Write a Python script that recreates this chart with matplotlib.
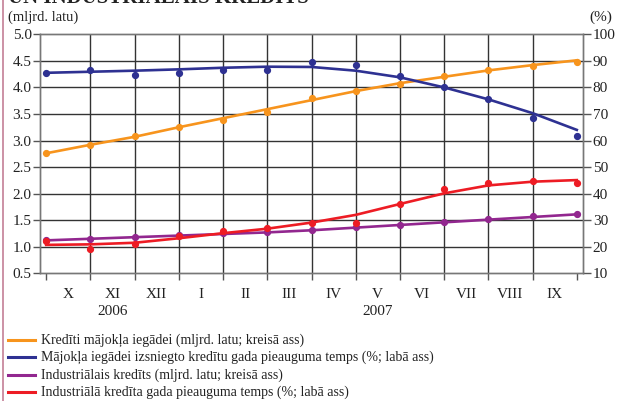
import numpy as np
import matplotlib
matplotlib.use("Agg")
import matplotlib.pyplot as plt
from matplotlib.lines import Line2D

plt.rcParams['font.family'] = ['Liberation Serif', 'DejaVu Serif']

months = ["X", "XI", "XII", "I", "II", "III", "IV", "V", "VI", "VII", "VIII", "IX"]
years = {"2006": 1, "2007": 7}

# housing loans (bn lats, left axis)
housing_pts = [2.76, 2.92, 3.08, 3.25, 3.39, 3.54, 3.81, 3.94, 4.07, 4.21, 4.32, 4.41, 4.47]
housing_trend = [2.76, 2.92, 3.07, 3.25, 3.42, 3.59, 3.76, 3.93, 4.08, 4.20, 4.32, 4.42, 4.51]
# housing loan growth (% , right axis)
hgrowth_pts = [85.5, 86.6, 84.6, 85.5, 86.6, 86.6, 89.5, 88.4, 84.3, 80.3, 75.5, 68.6, 61.7]
hgrowth_trend = [85.5, 85.9, 86.3, 86.8, 87.4, 87.8, 87.7, 86.3, 83.8, 80.0, 75.5, 70.3, 64.0]
# industrial credit (bn lats, left axis)
ind_pts = [1.13, 1.15, 1.18, 1.23, 1.25, 1.28, 1.31, 1.37, 1.41, 1.46, 1.52, 1.57, 1.61]
ind_trend = [1.12, 1.15, 1.18, 1.21, 1.24, 1.27, 1.31, 1.36, 1.41, 1.46, 1.51, 1.56, 1.61]
# industrial credit growth (%, right axis)
igrowth_pts = [22.2, 19.2, 20.9, 24.1, 25.8, 27.0, 29.1, 29.1, 36.0, 41.9, 43.9, 44.8, 43.9]
igrowth_trend = [20.7, 20.9, 21.5, 23.2, 25.1, 26.8, 29.1, 32.0, 36.1, 40.1, 43.1, 44.5, 45.1]

labels = ["Kredīti mājokļa iegādei (mljrd. latu; kreisā ass)",
          "Mājokļa iegādei izsniegto kredītu gada pieauguma temps (%; labā ass)",
          "Industriālais kredīts (mljrd. latu; kreisā ass)",
          "Industriālā kredīta gada pieauguma temps (%; labā ass)"]
colors = ["#F7941D", "#2E3192", "#92278F", "#ED1C24"]

W, H = 617, 401
fig = plt.figure(figsize=(W / 100, H / 100), dpi=100)
ax = fig.add_axes([40 / W, 1 - 273.3 / H, (583 - 40) / W, (273.3 - 34.3) / H])
ax2 = ax.twinx()

x = np.arange(len(housing_pts))
lw = 1.9
ms = 4.2
ax.plot(x, housing_trend, color=colors[0], lw=lw, zorder=4)
ax.plot(x, housing_pts, 'o', color=colors[0], ms=ms, zorder=5)
ax.plot(x, ind_trend, color=colors[2], lw=lw, zorder=4)
ax.plot(x, ind_pts, 'o', color=colors[2], ms=ms, zorder=5)
ax2.plot(x, hgrowth_trend, color=colors[1], lw=lw, zorder=4)
ax2.plot(x, hgrowth_pts, 'o', color=colors[1], ms=ms, zorder=5)
ax2.plot(x, igrowth_trend, color=colors[3], lw=lw, zorder=4)
ax2.plot(x, igrowth_pts, 'o', color=colors[3], ms=ms, zorder=5)

ax.set_xlim(-0.14, 12.14)
ax.set_ylim(0.5, 5.0)
ax2.set_ylim(10, 100)
ax.set_yticks(np.arange(0.5, 5.01, 0.5))
ax.set_yticklabels([f"{v:.1f}" for v in np.arange(0.5, 5.01, 0.5)])
ax2.set_yticks(np.arange(10, 101, 10))

# grid
for v in np.arange(1.0, 5.0, 0.5):
    ax.axhline(v, color="#333333", lw=1.0, zorder=1)
for i in range(1, 12):
    ax.axvline(i, color="#333333", lw=1.0, zorder=1)

ax.set_xticks(x)
ax.set_xticklabels([])
ax.tick_params(axis='x', length=5, width=1, color="#555555", direction='out')
ax.tick_params(axis='y', length=5, width=1, color="#555555", labelsize=11, pad=1, colors="#222222")
ax2.tick_params(axis='y', length=6, width=1, color="#555555", labelsize=11, pad=1, colors="#222222")
for a in (ax, ax2):
    for s in a.spines.values():
        s.set_color("#777777")
        s.set_linewidth(1.0)

for i, m in enumerate(months):
    ax.text(i + 0.5, -0.09, m, transform=ax.get_xaxis_transform(), ha='center', va='center',
            fontsize=11, color="#222222")
for yl, i in years.items():
    ax.text(i + 0.5, -0.16, yl, transform=ax.get_xaxis_transform(), ha='center', va='center',
            fontsize=11, color="#222222")

fig.text(8 / W, 1 - 17 / H, "(mljrd. latu)", ha='left', va='center', fontsize=10.5, color="#222222")
fig.text(612 / W, 1 - 17 / H, "(%)", ha='right', va='center', fontsize=11, color="#222222")
fig.text(8 / W, 1 - 3 / H, "UN INDUSTRIĀLAIS KREDĪTS", ha='left', va='baseline',
         fontsize=15, fontweight='bold', color="#222222")

# left frame line
fig.add_artist(Line2D([2.5 / W, 2.5 / W], [0, 1], color="#C8899E", lw=1.3))

# legend
rows = [340, 357, 375, 392]
for lab, c, yy in zip(labels, colors, rows):
    fig.add_artist(Line2D([8 / W, 35 / W], [1 - yy / H, 1 - yy / H], color=c, lw=2.2))
    fig.text(41 / W, 1 - yy / H, lab, ha='left', va='center', fontsize=10, color="#222222")

fig.savefig("out.png", dpi=100)
